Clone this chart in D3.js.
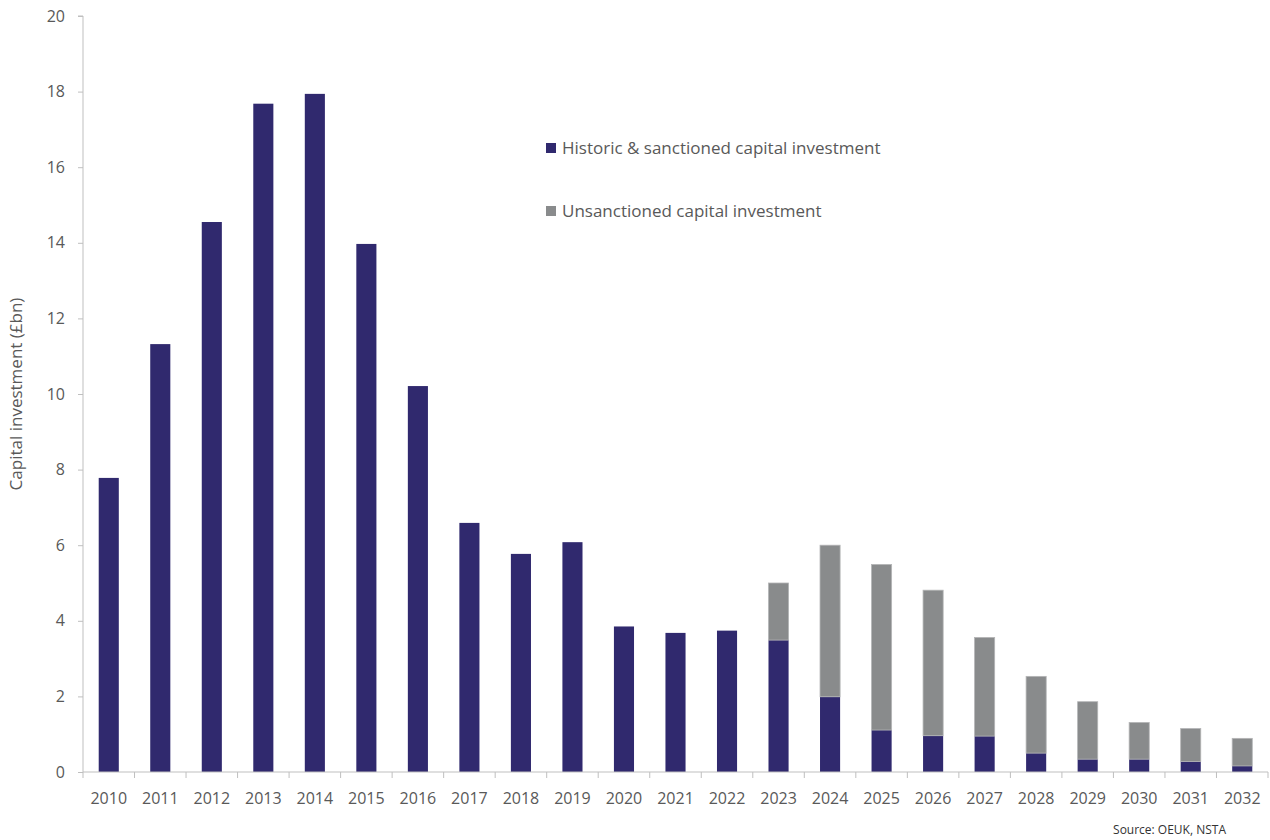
<!DOCTYPE html>
<html>
<head>
<meta charset="utf-8">
<script src="https://cdn.jsdelivr.net/npm/d3@7"></script>
<style>
  body { margin: 0; background: #fff; }
  svg text { font-family: "Open Sans", "Liberation Sans", sans-serif; fill: #595959; }
</style>
</head>
<body>
<svg id="chart" width="1270" height="840"></svg>
<script>
// Capital investment by year (£bn)
const years = ["2010","2011","2012","2013","2014","2015","2016","2017","2018","2019","2020","2021","2022","2023","2024","2025","2026","2027","2028","2029","2030","2031","2032"];
const sanctioned = [7.78, 11.32, 14.55, 17.68, 17.94, 13.97, 10.21, 6.59, 5.77, 6.08, 3.85, 3.68, 3.74, 3.49, 1.99, 1.11, 0.96, 0.95, 0.50, 0.34, 0.34, 0.28, 0.16];
const unsanctioned = [0, 0, 0, 0, 0, 0, 0, 0, 0, 0, 0, 0, 0, 1.51, 4.01, 4.38, 3.85, 2.61, 2.03, 1.52, 0.97, 0.87, 0.73];
const yTicks = [0, 2, 4, 6, 8, 10, 12, 14, 16, 18, 20];
const seriesNames = ["Historic & sanctioned capital investment", "Unsanctioned capital investment"];
const colors = ["#30296e", "#898b8c"];

const svg = d3.select("#chart");
const margin = { left: 83, right: 1268, top: 16, bottom: 772 };

const x = d3.scaleBand().domain(years).range([margin.left, margin.right]).paddingInner(0.61).paddingOuter(0.305);
const xBands = d3.scaleBand().domain(years).range([margin.left, margin.right]);
const y = d3.scaleLinear().domain([0, 20]).range([margin.bottom, margin.top]);

const rows = years.map((yr, i) => ({ year: yr, s: sanctioned[i], u: unsanctioned[i] }));
const stack = d3.stack().keys(["s", "u"])(rows);

// Bars
stack.forEach((layer, li) => {
  svg.append("g").selectAll("rect")
    .data(layer.filter(d => d[1] - d[0] > 0))
    .join("rect")
    .attr("x", d => x(d.data.year))
    .attr("width", x.bandwidth())
    .attr("y", d => y(d[1]))
    .attr("height", d => y(d[0]) - y(d[1]))
    .attr("fill", colors[li])
    .attr("stroke", li === 1 ? "#b4b5b6" : "none")
    .attr("stroke-width", li === 1 ? 0.8 : 0);
});

// Y axis
const yAxis = d3.axisLeft(y).tickValues(yTicks).tickSize(5).tickPadding(13).tickFormat(d3.format("d"));
const gy = svg.append("g").attr("transform", `translate(${margin.left},0)`).call(yAxis);
gy.select(".domain").attr("stroke", "#bfbfbf").attr("d", `M-5,${margin.top}H0V${margin.bottom}`);
gy.selectAll(".tick line").attr("stroke", "#bfbfbf");
gy.selectAll(".tick text").attr("font-size", 16).style("fill", "#595959");

// X axis with ticks on category boundaries
const gx = svg.append("g").attr("transform", `translate(0,${margin.bottom})`);
gx.append("line").attr("x1", margin.left).attr("x2", margin.right).attr("stroke", "#bfbfbf");
const edges = years.map(yr => xBands(yr)).concat([margin.right]);
gx.selectAll("line.tk").data(edges).join("line").attr("class", "tk")
  .attr("x1", d => d).attr("x2", d => d).attr("y1", 0).attr("y2", 6).attr("stroke", "#bfbfbf");
gx.selectAll("text").data(years).join("text")
  .attr("x", d => xBands(d) + xBands.bandwidth() / 2)
  .attr("y", 32)
  .attr("text-anchor", "middle")
  .attr("font-size", 16)
  .text(d => d);

// Y axis title
svg.append("text")
  .attr("transform", "translate(22,394) rotate(-90)")
  .attr("text-anchor", "middle")
  .attr("font-size", 17)
  .text("Capital investment (£bn)");

// Legend
const legend = svg.append("g");
seriesNames.forEach((name, i) => {
  const ly = 148 + i * 63;
  legend.append("rect").attr("x", 546).attr("y", ly - 5).attr("width", 10).attr("height", 10).attr("fill", colors[i]);
  legend.append("text").attr("x", 562).attr("y", ly + 6).attr("font-size", 17).text(name);
});

// Source note
svg.append("text")
  .attr("x", 1226).attr("y", 834)
  .attr("text-anchor", "end")
  .attr("font-size", 12)
  .style("fill", "#333")
  .text("Source: OEUK, NSTA");
</script>
</body>
</html>
